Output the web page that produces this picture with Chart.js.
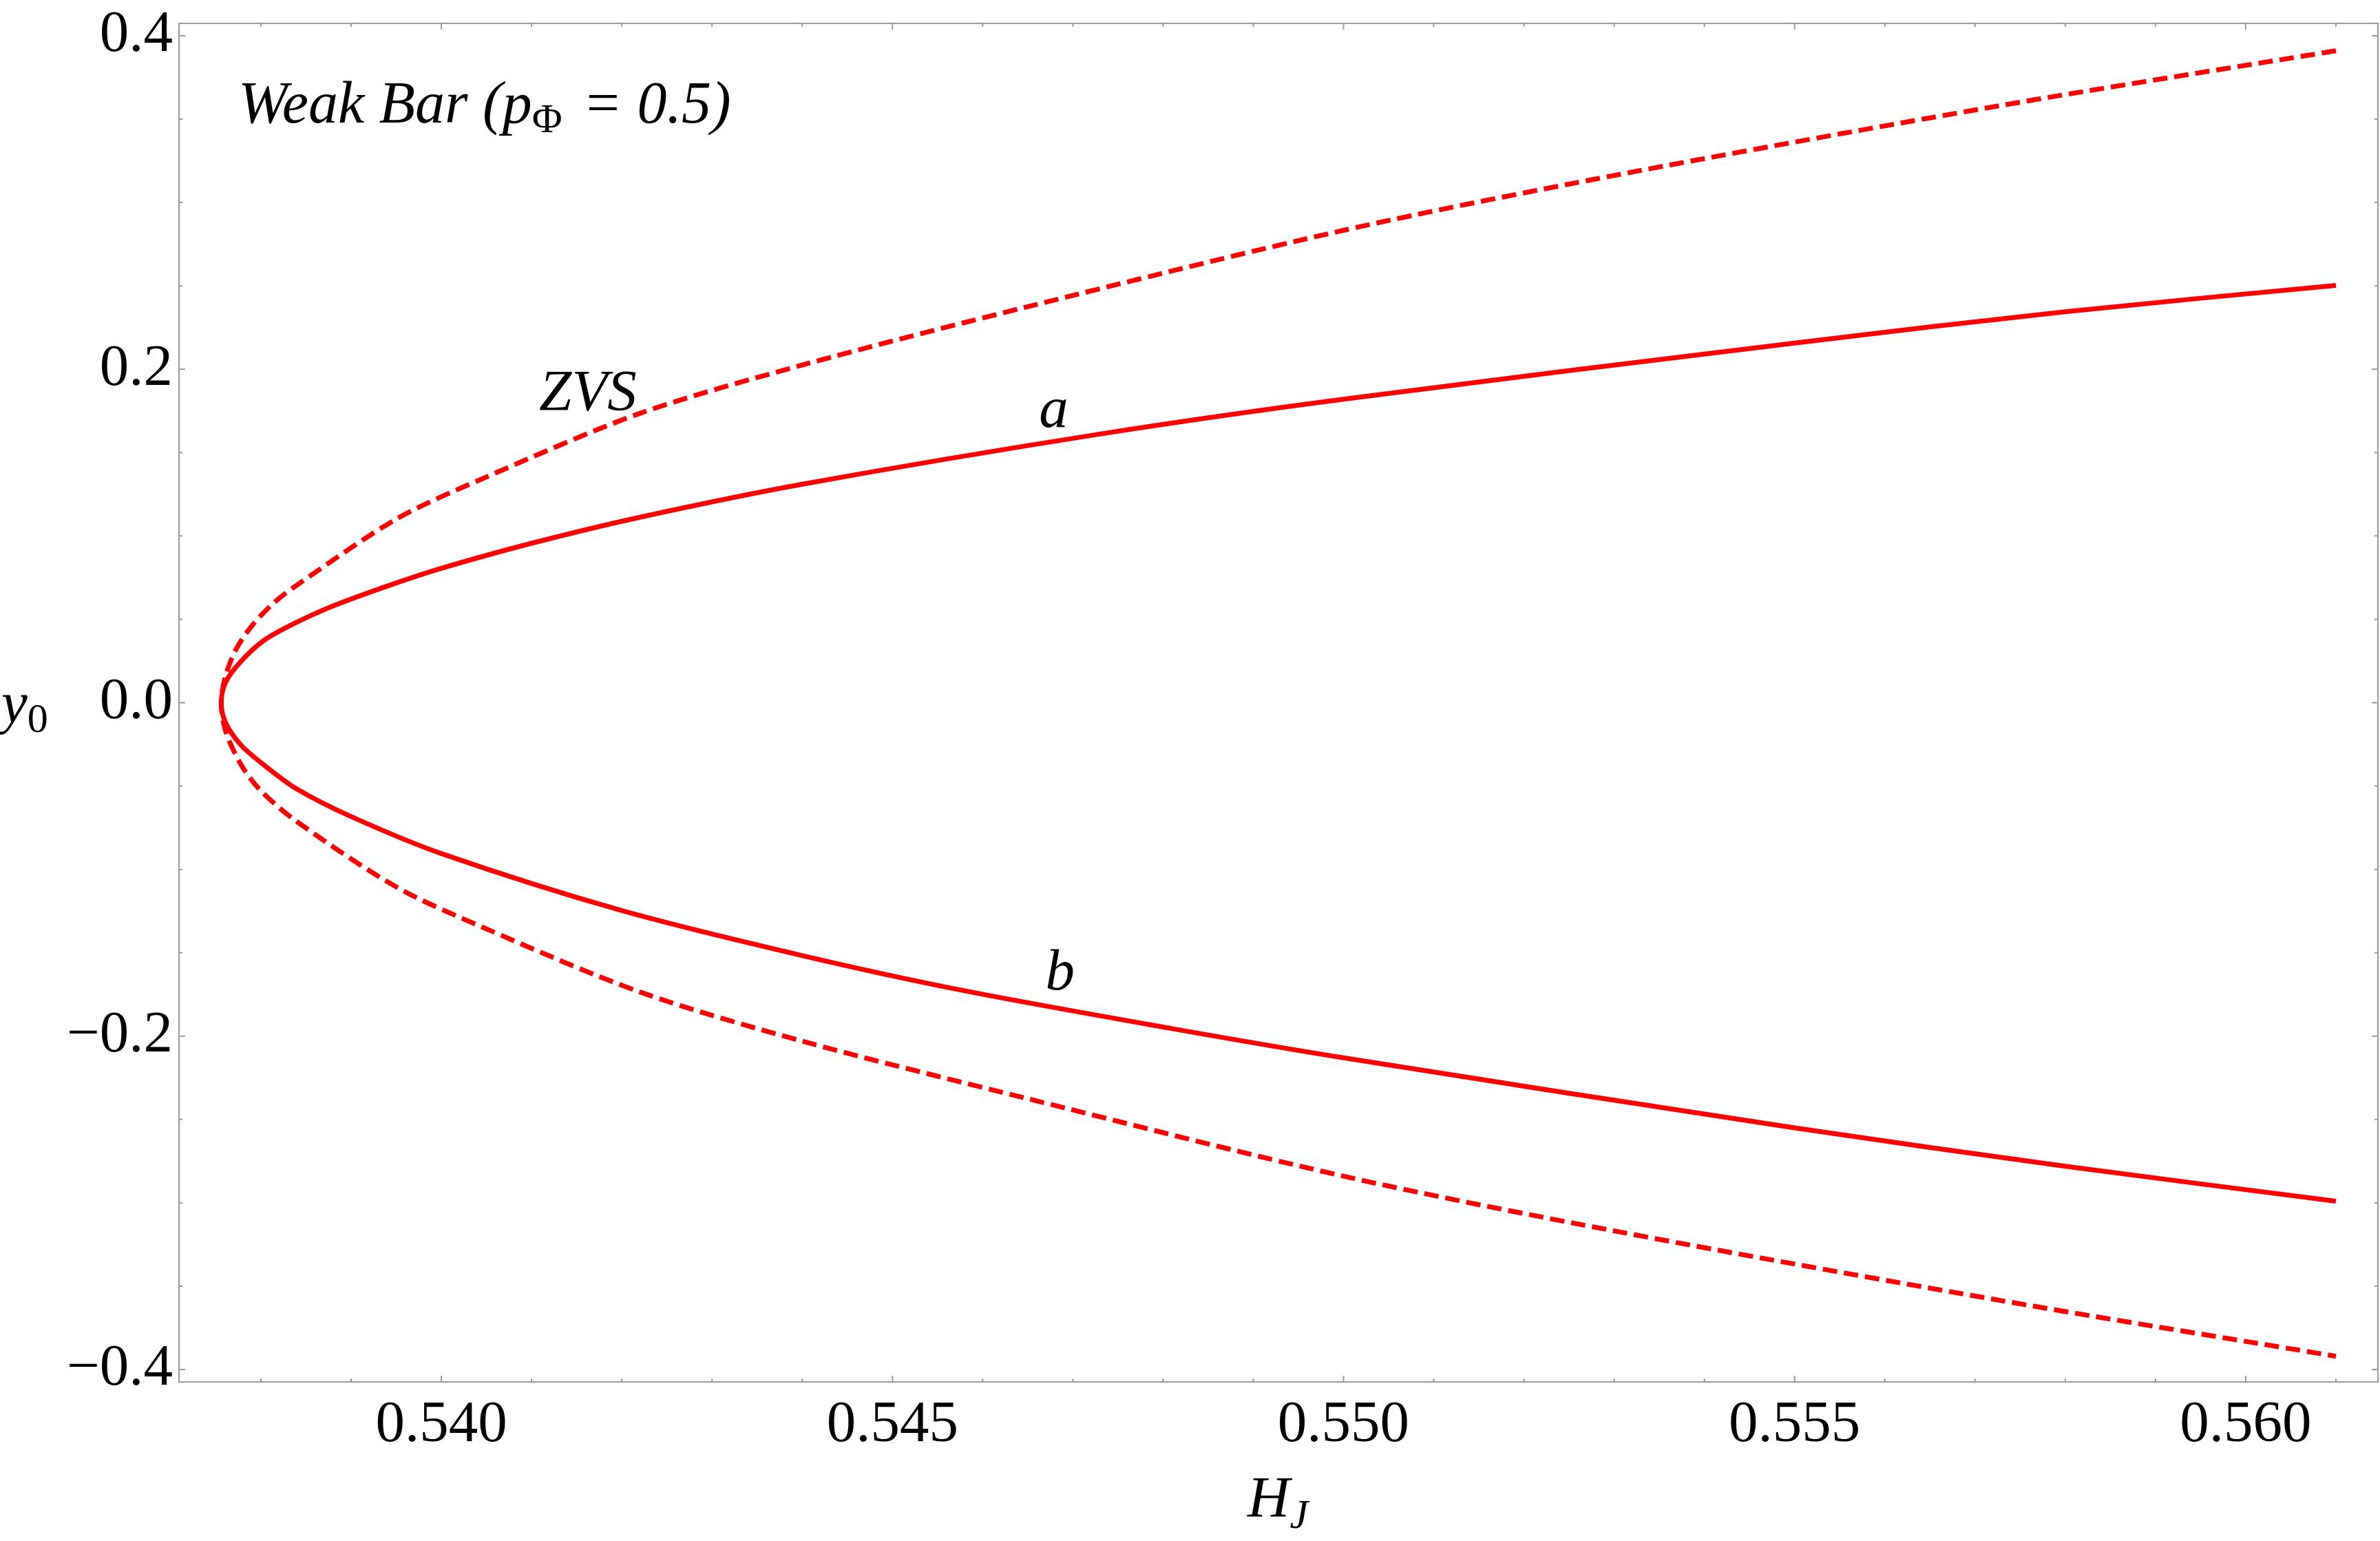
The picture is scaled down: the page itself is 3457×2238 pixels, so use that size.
<!DOCTYPE html>
<html>
<head>
<meta charset="utf-8">
<script src="https://cdn.jsdelivr.net/npm/chart.js@4/dist/chart.umd.min.js"></script>
<style>
  html, body { margin: 0; padding: 0; background: #fff; }
  #wrap { width: 3457px; height: 2238px; }
</style>
</head>
<body>
<div id="wrap"><canvas id="chart"></canvas></div>
<script>
// curve a (upper branch, solid)
const hA = [0.561, 0.558, 0.555, 0.550, 0.5473, 0.544, 0.5422, 0.541, 0.540, 0.5395, 0.53879, 0.53834, 0.53803, 0.53778, 0.53761, 0.53756];
const yA = [0.2503, 0.2345, 0.2157, 0.182, 0.1611, 0.131, 0.1112, 0.0956, 0.0806, 0.0718, 0.0578, 0.0467, 0.0372, 0.0248, 0.0124, 0.0];
// curve b (lower branch, solid)
const hB = [0.53761, 0.53778, 0.53803, 0.53839, 0.5390, 0.5400, 0.5420, 0.5440, 0.5458, 0.5481, 0.550, 0.555, 0.558, 0.561];
const yB = [-0.0122, -0.0255, -0.0372, -0.0515, -0.0683, -0.0905, -0.1247, -0.1517, -0.1728, -0.1955, -0.213, -0.255, -0.278, -0.299];
// ZVS (dashed), upper and lower
const hZU = [0.561, 0.5573, 0.553, 0.550, 0.5465, 0.544, 0.5422, 0.54045, 0.5395, 0.53839, 0.53814, 0.53791, 0.53773, 0.53761, 0.53756];
const yZU = [0.391, 0.3583, 0.3162, 0.2833, 0.2375, 0.2025, 0.1735, 0.1342, 0.1101, 0.0702, 0.0597, 0.0468, 0.0326, 0.0165, 0.0];
const hZL = [0.53761, 0.53778, 0.53799, 0.53839, 0.5395, 0.54045, 0.5422, 0.544, 0.5465, 0.550, 0.553, 0.5573, 0.561];
const yZL = [-0.0172, -0.0372, -0.0523, -0.071, -0.1105, -0.1345, -0.1735, -0.203, -0.2375, -0.284, -0.3168, -0.3587, -0.392];

const xTicks = [0.540, 0.545, 0.550, 0.555, 0.560];
const yTicks = [-0.4, -0.2, 0.0, 0.2, 0.4];

const curveLabels = [
  { text: 'ZVS', h: 0.541084, y: 0.1755 },
  { text: 'a', h: 0.546626, y: 0.1652 },
  { text: 'b', h: 0.546695, y: -0.1722 }
];

const toPts = (xs, ys) => xs.map((x, i) => ({ x: x, y: ys[i] }));
const solidPts = toPts(hA, yA).concat(toPts(hB, yB));
const dashPts = toPts(hZU, yZU).concat(toPts(hZL, yZL));

const SERIF = '"Liberation Serif", "Times New Roman", serif';
const FS = 85;

function richText(ctx, x, y, parts) {
  ctx.save();
  ctx.fillStyle = '#000';
  ctx.textBaseline = 'alphabetic';
  ctx.textAlign = 'left';
  parts.forEach(p => {
    ctx.font = p.font;
    ctx.fillText(p.t, x, y + (p.dy || 0));
    x += ctx.measureText(p.t).width + (p.gap || 0);
  });
  ctx.restore();
}

const framePlugin = {
  id: 'frame',
  afterDraw(chart) {
    const ctx = chart.ctx;
    const a = chart.chartArea;
    const sx = chart.scales.x, sy = chart.scales.y;
    ctx.save();
    ctx.strokeStyle = '#9a9a9a';
    ctx.lineWidth = 2;
    ctx.strokeRect(a.left, a.top, a.right - a.left, a.bottom - a.top);
    ctx.beginPath();
    // x ticks every 0.001, longer at labelled values
    for (let k = 538; k <= 561; k++) {
      const px = sx.getPixelForValue(k / 1000);
      const len = k % 5 === 0 ? 9 : 5;
      ctx.moveTo(px, a.bottom); ctx.lineTo(px, a.bottom - len);
      ctx.moveTo(px, a.top); ctx.lineTo(px, a.top + len);
    }
    // y ticks every 0.05
    for (let k = -8; k <= 8; k++) {
      const py = sy.getPixelForValue(k * 0.05);
      const len = k % 4 === 0 ? 9 : 5;
      ctx.moveTo(a.left, py); ctx.lineTo(a.left + len, py);
      ctx.moveTo(a.right, py); ctx.lineTo(a.right - len, py);
    }
    ctx.stroke();
    ctx.restore();

    const it = 'italic ' + FS + 'px ' + SERIF;
    const sub = '60px ' + SERIF;
    const subIt = 'italic 60px ' + SERIF;
    // curve labels
    curveLabels.forEach(l => {
      richText(ctx, sx.getPixelForValue(l.h), sy.getPixelForValue(l.y), [{ t: l.text, font: it }]);
    });
    // plot label
    richText(ctx, sx.getPixelForValue(0.537748), sy.getPixelForValue(0.3478), [
      { t: 'Weak Bar (p', font: 'italic 86px ' + SERIF },
      { t: 'Φ', font: sub, dy: 14, gap: 8 },
      { t: ' = 0.5)', font: 'italic 86px ' + SERIF }
    ]);
    // axis titles
    richText(ctx, 2, sy.getPixelForValue(0) + 28, [
      { t: 'y', font: it },
      { t: '0', font: sub, dy: 14 }
    ]);
    richText(ctx, (a.left + a.right) / 2 - 45, 2203, [
      { t: 'H', font: it },
      { t: 'J', font: subIt, dy: 16 }
    ]);
  }
};

new Chart(document.getElementById('chart'), {
  type: 'scatter',
  plugins: [framePlugin],
  data: {
    datasets: [
      {
        label: 'a, b',
        data: solidPts,
        showLine: true,
        borderColor: '#ff0000',
        borderWidth: 7,
        pointRadius: 0,
        tension: 0.3,
        fill: false
      },
      {
        label: 'ZVS',
        data: dashPts,
        showLine: true,
        borderColor: '#ff0000',
        borderWidth: 7,
        borderDash: [21, 10],
        pointRadius: 0,
        tension: 0.3,
        fill: false
      }
    ]
  },
  options: {
    responsive: true,
    maintainAspectRatio: false,
    animation: false,
    devicePixelRatio: 1,
    layout: { padding: { top: 34, right: 3, left: 0, bottom: 0 } },
    plugins: {
      legend: { display: false },
      tooltip: { enabled: false }
    },
    scales: {
      x: {
        type: 'linear',
        min: 0.537092,
        max: 0.561466,
        grid: { display: false, drawTicks: false },
        border: { display: false },
        afterBuildTicks: s => { s.ticks = xTicks.map(v => ({ value: v })); },
        afterFit: s => { s.height = 231; s.paddingLeft = 0; s.paddingRight = 0; },
        ticks: {
          autoSkip: false,
          maxRotation: 0,
          padding: 13,
          color: '#000',
          font: { family: SERIF, size: FS },
          callback: v => v.toFixed(3)
        }
      },
      y: {
        type: 'linear',
        min: -0.4074,
        max: 0.4074,
        grid: { display: false, drawTicks: false },
        border: { display: false },
        afterBuildTicks: s => { s.ticks = yTicks.map(v => ({ value: v })); },
        afterFit: s => { s.width = 260; s.paddingTop = 0; s.paddingBottom = 0; },
        ticks: {
          autoSkip: false,
          padding: 9,
          color: '#000',
          font: { family: SERIF, size: FS },
          callback: v => (Math.abs(v) < 1e-9 ? '0.0' : (v < 0 ? '\u2212' : '') + Math.abs(v).toFixed(1))
        }
      }
    }
  }
});
</script>
</body>
</html>
